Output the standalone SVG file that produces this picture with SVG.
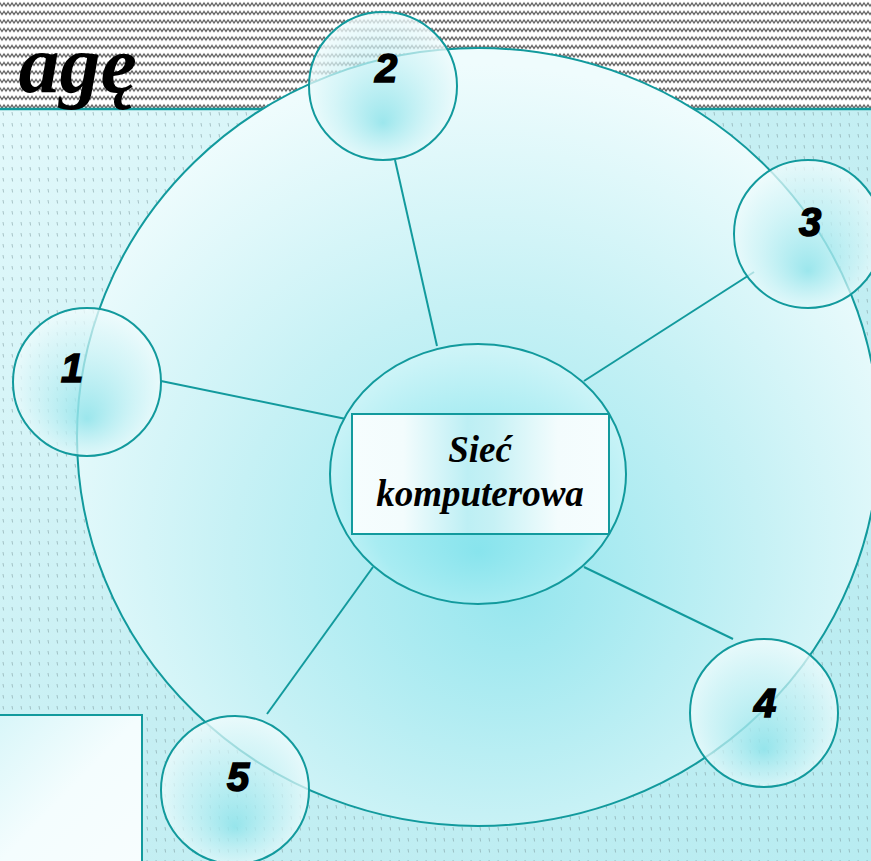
<svg xmlns="http://www.w3.org/2000/svg" width="871" height="861" viewBox="0 0 871 861">
  <style>
    .ring { stroke: #129a9d; stroke-width: 2; }
    .link { stroke: #129a9d; stroke-width: 2; fill: none; }
    .num { font-family: "Liberation Sans", Arial, sans-serif; font-weight: bold; font-style: italic; font-size: 40px; fill: #000; stroke: #000; stroke-width: 1.6; text-anchor: middle; }
    .title { font-family: "Liberation Serif", "Times New Roman", serif; font-weight: bold; font-style: italic; font-size: 37px; fill: #000; text-anchor: middle; }
    .head { font-family: "Liberation Serif", "Times New Roman", serif; font-weight: bold; font-style: italic; font-size: 82px; fill: #000; text-anchor: end; }
  </style>
  <defs>
    <pattern id="zigzag" width="8" height="8.5" patternUnits="userSpaceOnUse">
      <rect width="8" height="8.5" fill="#ffffff"/>
      <polyline points="-2,6 0,3 2,6 4,3 6,6 8,3 10,6" fill="none" stroke="#555555" stroke-width="1.2"/>
    </pattern>
    <pattern id="specks" width="9" height="11" patternUnits="userSpaceOnUse">
      <line x1="3" y1="2" x2="3.6" y2="5.5" stroke="#7f9ca0" stroke-width="0.9" opacity="0.65"/>
    </pattern>
    <linearGradient id="bgGrad" x1="0" y1="0" x2="1" y2="1">
      <stop offset="0" stop-color="#e6fafc"/>
      <stop offset="0.5" stop-color="#c6eff3"/>
      <stop offset="1" stop-color="#b8ecf1"/>
    </linearGradient>
    <radialGradient id="bigGrad" cx="0.5" cy="0.62" r="0.6" fx="0.55" fy="0.7">
      <stop offset="0" stop-color="#96e6ee"/>
      <stop offset="0.55" stop-color="#c6f1f5"/>
      <stop offset="1" stop-color="#effcfd"/>
    </radialGradient>
    <radialGradient id="nodeGrad" cx="0.5" cy="0.5" r="0.6" fx="0.5" fy="0.75">
      <stop offset="0" stop-color="#8fe3ea" stop-opacity="0.85"/>
      <stop offset="0.55" stop-color="#cdf3f6" stop-opacity="0.7"/>
      <stop offset="1" stop-color="#ffffff" stop-opacity="0.8"/>
    </radialGradient>
    <radialGradient id="hubGrad" cx="0.5" cy="0.55" r="0.6" fx="0.5" fy="0.8">
      <stop offset="0" stop-color="#88e4ed"/>
      <stop offset="0.6" stop-color="#a8ecf2"/>
      <stop offset="1" stop-color="#d6f6f9"/>
    </radialGradient>
    <linearGradient id="boxGrad" x1="0" y1="0" x2="1" y2="0">
      <stop offset="0" stop-color="#f6fdfe"/>
      <stop offset="0.2" stop-color="#f3fcfd"/>
      <stop offset="0.45" stop-color="#bdeff4"/>
      <stop offset="0.55" stop-color="#c6f1f5"/>
      <stop offset="0.8" stop-color="#f3fcfd"/>
      <stop offset="1" stop-color="#f6fdfe"/>
    </linearGradient>
    <linearGradient id="noteGrad" x1="0" y1="0" x2="1" y2="1">
      <stop offset="0" stop-color="#d8f6f9"/>
      <stop offset="0.5" stop-color="#f4fdfe"/>
      <stop offset="1" stop-color="#f7fdfe"/>
    </linearGradient>
  </defs>

  <!-- page background -->
  <rect x="0" y="0" width="871" height="861" fill="url(#bgGrad)"/>
  <rect x="0" y="109" width="871" height="752" fill="url(#specks)"/>

  <!-- header band -->
  <rect x="0" y="0" width="871" height="108" fill="url(#zigzag)"/>
  <line x1="0" y1="109" x2="871" y2="109" stroke="#129a9d" stroke-width="2.5"/>
  <text class="head" x="137" y="92">agę</text>

  <!-- lower-left note box -->
  <rect id="note" x="-2" y="715" width="144" height="150" fill="url(#noteGrad)" stroke="#129a9d" stroke-width="2"/>

  <!-- outer ring -->
  <ellipse id="ring" cx="478" cy="437" rx="401" ry="389" fill="url(#bigGrad)" class="ring"/>

  <!-- connectors -->
  <g id="connectors">
    <line class="link" x1="395" y1="160" x2="437" y2="346"/>
    <line class="link" x1="754" y1="272" x2="584" y2="381"/>
    <line class="link" x1="161" y1="381" x2="346" y2="419"/>
    <line class="link" x1="584" y1="567" x2="733" y2="639"/>
    <line class="link" x1="373" y1="567" x2="267" y2="714"/>
  </g>

  <!-- satellite nodes -->
  <g id="node1">
    <circle cx="87" cy="382" r="74" fill="url(#nodeGrad)" class="ring"/>
    <text class="num" x="72" y="382">1</text>
  </g>
  <g id="node2">
    <circle cx="383" cy="86" r="74" fill="url(#nodeGrad)" class="ring"/>
    <text class="num" x="386" y="82">2</text>
  </g>
  <g id="node3">
    <circle cx="808" cy="234" r="74" fill="url(#nodeGrad)" class="ring"/>
    <text class="num" x="810" y="236">3</text>
  </g>
  <g id="node4">
    <circle cx="764" cy="713" r="74" fill="url(#nodeGrad)" class="ring"/>
    <text class="num" x="765" y="717">4</text>
  </g>
  <g id="node5">
    <circle cx="235" cy="790" r="74" fill="url(#nodeGrad)" class="ring"/>
    <text class="num" x="238" y="791">5</text>
  </g>

  <!-- hub -->
  <g id="hub">
    <ellipse cx="478" cy="474" rx="148" ry="130" fill="url(#hubGrad)" class="ring"/>
    <rect x="352" y="414" width="257" height="120" fill="url(#boxGrad)" stroke="#129a9d" stroke-width="2"/>
    <text class="title" x="480" y="462">Sieć</text>
    <text class="title" x="480" y="506">komputerowa</text>
  </g>
</svg>
